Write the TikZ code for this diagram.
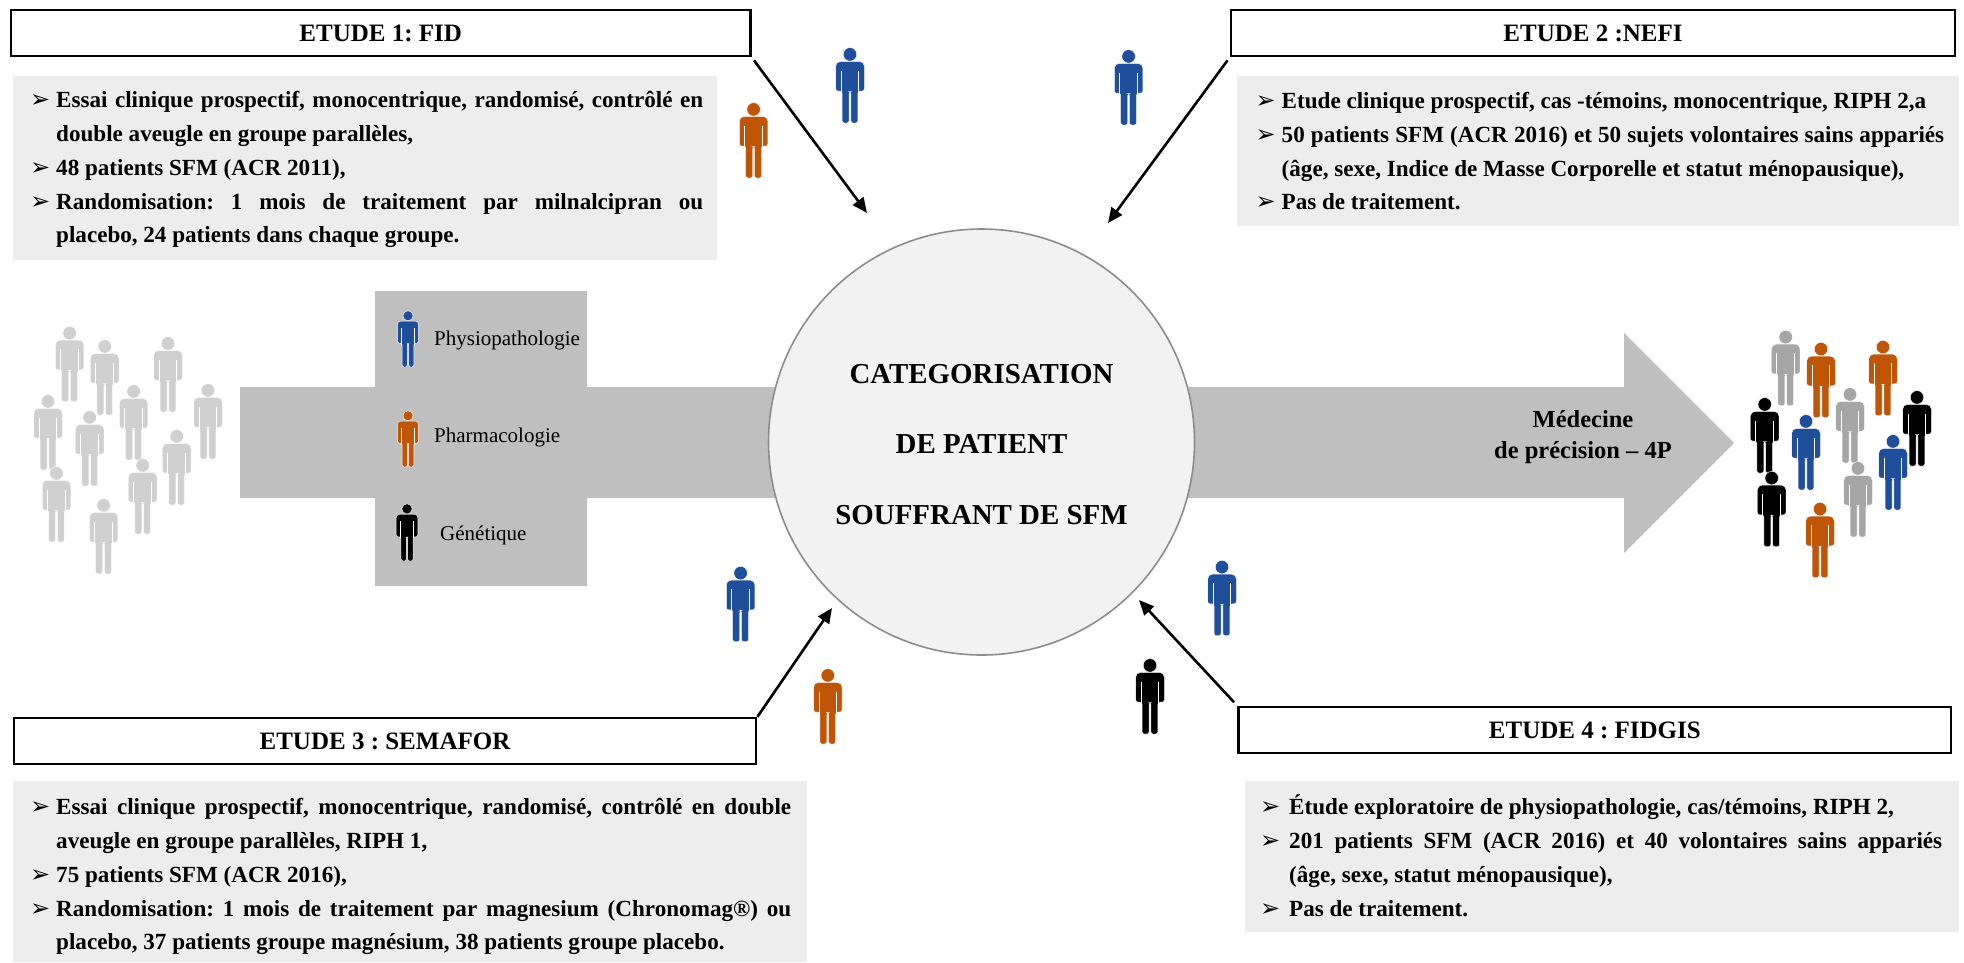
\documentclass[tikz,border=0pt]{standalone}
\usepackage{fontspec}
\setmainfont{Liberation Serif}
\newfontfamily\bulfont{DejaVu Sans}
\usetikzlibrary{arrows.meta}
\definecolor{pblue}{HTML}{1F4E9B}
\definecolor{porange}{HTML}{BF5507}
\definecolor{pblack}{HTML}{000000}
\definecolor{pgreyA}{HTML}{D0D0D0}
\definecolor{pgreyB}{HTML}{A6A6A6}
\definecolor{banner}{HTML}{BFBFBF}
\definecolor{panel}{HTML}{EDEDED}
\definecolor{disc}{HTML}{F2F2F2}
\definecolor{discline}{HTML}{8C8C8C}
\newcommand\person[4]{%
  \begin{scope}[shift={(#1,#2)},x=#3pt,y=-#3pt]
    \fill[#4,draw=white,line width=.4pt] (0,.085) circle[radius=.09];
    \fill[#4,draw=white,line width=.4pt,rounded corners=.03*#3pt]
      (-.19,.575) [rounded corners=.06*#3pt] --(-.19,.18)--(.19,.18) [rounded corners=.03*#3pt] --(.19,.575)--(.105,.575)
      --(.105,1)--(.012,1)--(.012,.58)--(-.012,.58)--(-.012,1)--(-.105,1)--(-.105,.575)--cycle;
    \draw[white,line width=.011*#3pt] (.118,.3)--(.118,.6) (-.118,.3)--(-.118,.6);
  \end{scope}}
\newcommand\bul[1][26pt]{\par\noindent\hangindent=#1\hangafter=1 \makebox[#1][l]{\bulfont\fontsize{24}{24}\selectfont ➢}\ignorespaces}
\tikzset{
  titlebox/.style={draw=black,line width=2.2pt,fill=white,inner sep=0pt,font=\bfseries\fontsize{25}{30}\selectfont},
  panelbox/.style={fill=panel,inner sep=0pt,anchor=north west},
  bodytext/.style={inner sep=0pt,anchor=north west,align=justify,font=\bfseries\frenchspacing\fontsize{23.1}{33.7}\selectfont},
  legendlabel/.style={inner sep=0pt,anchor=base west,font=\fontsize{21}{25}\selectfont},
  arr/.style={-{Triangle[length=15pt,width=13pt]},line width=2.6pt,black}
}
\begin{document}
\frenchspacing
\begin{tikzpicture}[x=1pt,y=-1pt]
\useasboundingbox (0,0) rectangle (1964,962);

% banner
\fill[banner] (240,387)--(375,387)--(375,291)--(587,291)--(587,387)--(1624,387)--(1624,333)
  --(1734,443)--(1624,553)--(1624,498)--(587,498)--(587,586)--(375,586)--(375,498)--(240,498)--cycle;

% centre disc
\node[circle,draw=discline,line width=1.6pt,fill=disc,minimum size=426pt,inner sep=0pt] (disc) at (981.5,442) {};
\node[inner sep=0pt,align=center,font=\bfseries\frenchspacing\fontsize{28.9}{70.6}\selectfont] (disctext) at (981.5,444.5)
  {CATEGORISATION\\DE PATIENT\\SOUFFRANT DE SFM};

% titles
\node[titlebox,minimum width=739.5pt,minimum height=46pt] (t1) at (380.7,33) {ETUDE 1: FID};
\node[titlebox,minimum width=724pt,minimum height=46pt] (t2) at (1593,33) {ETUDE 2 :NEFI};
\node[titlebox,minimum width=742.5pt,minimum height=46pt] (t3) at (385,741) {ETUDE 3 : SEMAFOR};
\node[titlebox,minimum width=712.5pt,minimum height=46pt] (t4) at (1594.8,730) {ETUDE 4 : FIDGIS};

% panels
\node[panelbox,minimum width=704pt,minimum height=184pt] (p1) at (13,76) {};
\node[panelbox,minimum width=722pt,minimum height=150pt] (p2) at (1237,76) {};
\node[panelbox,minimum width=794pt,minimum height=181pt] (p3) at (13,781) {};
\node[panelbox,minimum width=714pt,minimum height=151pt] (p4) at (1245,781) {};

\node[bodytext,text width=673pt] (b1) at (30,74) {%
  \bul Essai clinique prospectif, monocentrique, randomisé, contrôlé en\linebreak double aveugle en groupe parallèles,
  \bul 48 patients SFM (ACR 2011),
  \bul Randomisation: 1 mois de traitement par milnalcipran ou\linebreak placebo, 24 patients dans chaque groupe.\par};
\node[bodytext,text width=688.5pt] (b2) at (1255.5,74.7) {%
  \bul Etude clinique prospectif, cas -témoins, monocentrique, RIPH 2,a
  \bul 50 patients SFM (ACR 2016) et 50 sujets volontaires sains appariés\linebreak (âge, sexe, Indice de Masse Corporelle et statut ménopausique),
  \bul Pas de traitement.\par};
\node[bodytext,text width=761pt] (b3) at (30,781) {%
  \bul Essai clinique prospectif, monocentrique, randomisé, contrôlé en double\linebreak aveugle en groupe parallèles, RIPH 1,
  \bul 75 patients SFM (ACR 2016),
  \bul Randomisation: 1 mois de traitement par magnesium (Chronomag®) ou\linebreak placebo, 37 patients groupe magnésium, 38 patients groupe placebo.\par};
\node[bodytext,text width=682pt] (b4) at (1260,781) {%
  \bul[29pt] Étude exploratoire de physiopathologie, cas/témoins, RIPH 2,
  \bul[29pt] 201 patients SFM (ACR 2016) et 40 volontaires sains appariés\linebreak (âge, sexe, statut ménopausique),
  \bul[29pt] Pas de traitement.\par};

% connectors
\coordinate (a1) at (867,213);
\coordinate (a2) at (1108,223);
\coordinate (a3) at (832,608);
\coordinate (a4) at (1139,600);
\draw[arr,shorten <=4pt] (t1.south east) -- (a1);
\draw[arr,shorten <=4pt] (t2.south west) -- (a2);
\draw[arr] (t3.north east) -- (a3);
\draw[arr,shorten <=5pt] (t4.north west) -- (a4);

% legend
\person{408}{311}{56}{pblue}
\person{408}{411}{56}{porange}
\person{407}{504}{57}{pblack}
\node[legendlabel] (l1) at (434,345) {Physiopathologie};
\node[legendlabel] (l2) at (434,442) {Pharmacologie};
\node[legendlabel] (l3) at (440,540) {Génétique};

% precision medicine
\node[inner sep=0pt,align=center,font=\bfseries\frenchspacing\fontsize{24.5}{31}\selectfont] (m) at (1583,437) {Médecine\\de précision – 4P};

% free figures
\person{850}{48}{75}{pblue}
\person{753.6}{103}{75}{porange}
\person{1128.6}{50}{75}{pblue}
\person{740.6}{566.7}{75}{pblue}
\person{827.8}{669}{75}{porange}
\person{1150}{659}{75}{pblack}
\person{1222}{560.7}{75}{pblue}

% left crowd
\person{69.6}{326.7}{75}{pgreyA}
\person{104.7}{340}{75}{pgreyA}
\person{168}{337}{75}{pgreyA}
\person{133.6}{385}{75}{pgreyA}
\person{208}{384}{75}{pgreyA}
\person{48}{395}{75}{pgreyA}
\person{89.7}{411}{75}{pgreyA}
\person{176.7}{430}{75}{pgreyA}
\person{56.5}{467}{75}{pgreyA}
\person{142.7}{459}{75}{pgreyA}
\person{103.6}{499}{75}{pgreyA}

% right crowd
\person{1785.7}{330.7}{75}{pgreyB}
\person{1821}{342.7}{75}{porange}
\person{1883}{340.7}{75}{porange}
\person{1850}{388}{75}{pgreyB}
\person{1917}{391}{75}{pblack}
\person{1764.7}{398}{75}{pblack}
\person{1806}{415}{75}{pblue}
\person{1893}{435}{75}{pblue}
\person{1858}{462}{75}{pgreyB}
\person{1771.7}{471.7}{75}{pblack}
\person{1820}{502.7}{75}{porange}
\end{tikzpicture}
\end{document}
